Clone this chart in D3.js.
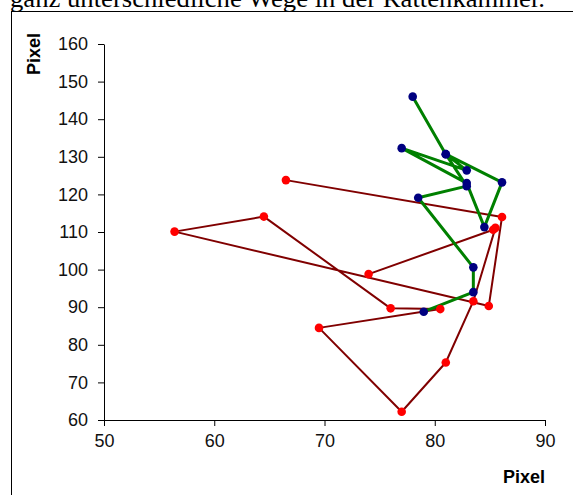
<!DOCTYPE html>
<html><head><meta charset="utf-8">
<script src="https://cdn.jsdelivr.net/npm/d3@7"></script>
<style>body{margin:0;background:#fff;overflow:hidden}</style>
</head><body>
<svg id="c" width="573" height="495"></svg>
<script>
const headline = "ganz unterschiedliche Wege in der Rattenkammer.";
const axisTitle = "Pixel";
const xTicks = [50, 60, 70, 80, 90];
const yTicks = [60, 70, 80, 90, 100, 110, 120, 130, 140, 150, 160];
// red path (dark-red line, red markers)
const redX = [66.5, 86.1, 84.9, 56.4, 64.5, 76.0, 80.5, 69.5, 77.0, 81.0, 83.5, 85.5, 85.3, 74.0];
const redY = [123.8, 114.0, 90.3, 110.1, 114.1, 89.7, 89.5, 84.5, 62.2, 75.3, 91.6, 111.1, 110.6, 98.8];
// blue path (green line, navy markers)
const blueX = [78.0, 81.0, 86.1, 84.5, 82.9, 77.0, 82.9, 81.0, 82.9, 78.5, 83.5, 83.5, 79.0];
const blueY = [146.0, 130.7, 123.2, 111.3, 123.0, 132.3, 126.4, 130.7, 122.2, 119.1, 100.6, 94.0, 88.8];

const svg = d3.select("#c");
svg.append("rect").attr("width", 573).attr("height", 495).attr("fill", "#fff");

svg.append("text").attr("x", 10).attr("y", 7)
  .attr("font-family", "'Liberation Serif','Times New Roman',serif")
  .attr("font-size", 26).attr("textLength", 535).attr("lengthAdjust", "spacingAndGlyphs")
  .attr("fill", "#000").text(headline);

svg.append("rect").attr("x", 11.5).attr("y", 11.5).attr("width", 700).attr("height", 700)
  .attr("fill", "none").attr("stroke", "#000").attr("stroke-width", 1);

const x = d3.scaleLinear().domain([50, 90]).range([104, 545]);
const y = d3.scaleLinear().domain([60, 160]).range([420, 44]);

const font = "'Liberation Sans',Arial,sans-serif";

const gx = svg.append("g").attr("transform", "translate(0,420)")
  .call(d3.axisBottom(x).tickValues(xTicks).tickSizeInner(6).tickSizeOuter(0).tickPadding(8).tickFormat(d3.format("d")));
const gy = svg.append("g").attr("transform", "translate(104,0)")
  .call(d3.axisLeft(y).tickValues(yTicks).tickSizeInner(6).tickSizeOuter(0).tickPadding(10).tickFormat(d3.format("d")));
[gx, gy].forEach(g => {
  g.selectAll("path,line").attr("stroke", "#000");
  g.selectAll("text").attr("font-family", font).attr("font-size", 18).attr("fill", "#111");
});

svg.append("text").attr("x", 545).attr("y", 483).attr("text-anchor", "end")
  .attr("font-family", font).attr("font-weight", "bold").attr("font-size", 18).text(axisTitle);
svg.append("text").attr("transform", "translate(40,54) rotate(-90)").attr("text-anchor", "middle")
  .attr("font-family", font).attr("font-weight", "bold").attr("font-size", 18).text(axisTitle);

const red = redX.map((v, i) => [v, redY[i]]);
const blue = blueX.map((v, i) => [v, blueY[i]]);
const line = d3.line().x(d => x(d[0])).y(d => y(d[1]));

svg.append("path").datum(red).attr("d", line).attr("fill", "none")
  .attr("stroke", "#800000").attr("stroke-width", 2).attr("stroke-linejoin", "round");
svg.append("path").datum(blue).attr("d", line).attr("fill", "none")
  .attr("stroke", "#008000").attr("stroke-width", 3).attr("stroke-linejoin", "round");

svg.append("g").selectAll("circle").data(blue).join("circle")
  .attr("cx", d => x(d[0])).attr("cy", d => y(d[1])).attr("r", 4.3).attr("fill", "#000080");
svg.append("g").selectAll("circle").data(red).join("circle")
  .attr("cx", d => x(d[0])).attr("cy", d => y(d[1])).attr("r", 4.3).attr("fill", "#ff0000");
</script>
</body></html>
